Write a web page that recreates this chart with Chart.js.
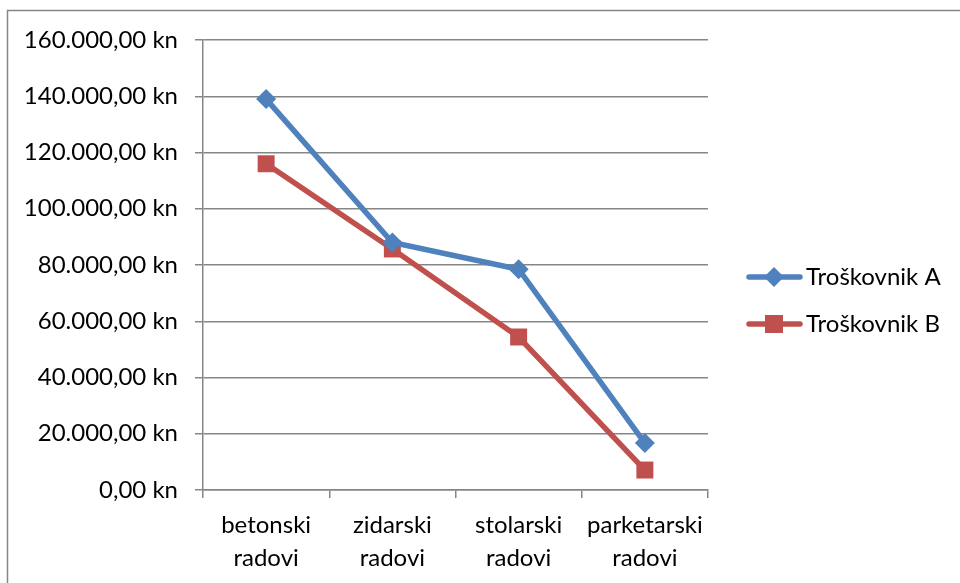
<!DOCTYPE html>
<html>
<head>
<meta charset="utf-8">
<script src="https://cdn.jsdelivr.net/npm/chart.js@4.4.1/dist/chart.umd.min.js"></script>
<style>
  html, body { margin: 0; padding: 0; background: #fff; }
  canvas { display: block; }
</style>
</head>
<body>
<canvas id="chart" width="960" height="583"></canvas>
<script>
// values
const categories = [['betonski', 'radovi'], ['zidarski', 'radovi'], ['stolarski', 'radovi'], ['parketarski', 'radovi']];
const seriesNames = ['Troškovnik A', 'Troškovnik B'];
const troskovnikA = [139000, 88000, 78500, 16700];
const troskovnikB = [116000, 85700, 54400, 7100];
const yTicks = [0, 20000, 40000, 60000, 80000, 100000, 120000, 140000, 160000];

const FONT = 'Lato, "Open Sans", sans-serif';
const GRID = '#868686';

function fmtKn(v) {
    const s = Math.round(v).toString().replace(/\B(?=(\d{3})+(?!\d))/g, '.');
    return s + ',00 kn';
}

// frame + legend drawn like the original (line with marker in the middle)
const frameLegend = {
    id: 'frameLegend',
    afterDraw(chart) {
        const ctx = chart.ctx;
        ctx.save();
        ctx.strokeStyle = GRID;
        ctx.lineWidth = 1.5;
        ctx.strokeRect(7.5, 10.5, 1000, 1000);

        const rows = [277, 324];
        chart.data.datasets.forEach((ds, i) => {
            const y = rows[i];
            ctx.strokeStyle = ds.borderColor;
            ctx.lineWidth = 5.5;
            ctx.lineCap = 'round';
            ctx.beginPath();
            ctx.moveTo(749, y);
            ctx.lineTo(800, y);
            ctx.stroke();
            ctx.fillStyle = ds.backgroundColor;
            ctx.beginPath();
            if (ds.pointStyle === 'rectRot') {
                ctx.moveTo(774, y - 10);
                ctx.lineTo(784, y);
                ctx.lineTo(774, y + 10);
                ctx.lineTo(764, y);
            } else {
                ctx.rect(765, y - 9, 18, 18);
            }
            ctx.closePath();
            ctx.fill();
            ctx.fillStyle = '#000';
            ctx.font = '24px ' + FONT;
            ctx.textBaseline = 'middle';
            ctx.textAlign = 'left';
            ctx.fillText(ds.label, 806, y);
        });
        ctx.restore();
    }
};

new Chart(document.getElementById('chart'), {
    type: 'line',
    data: {
        labels: categories,
        datasets: [
            {
                label: seriesNames[0],
                data: troskovnikA,
                borderColor: '#4F81BD',
                backgroundColor: '#4F81BD',
                borderWidth: 5.5,
                pointStyle: 'rectRot',
                pointRadius: 10,
                pointHoverRadius: 10,
                pointBorderWidth: 0,
                tension: 0
            },
            {
                label: seriesNames[1],
                data: troskovnikB,
                borderColor: '#C0504D',
                backgroundColor: '#C0504D',
                borderWidth: 5.5,
                pointStyle: 'rect',
                pointRadius: 12,
                pointHoverRadius: 12,
                pointBorderWidth: 0,
                tension: 0
            }
        ]
    },
    options: {
        responsive: false,
        animation: false,
        devicePixelRatio: 1,
        layout: { padding: { left: 0, top: 40, right: 252, bottom: 0 } },
        plugins: {
            legend: { display: false },
            tooltip: { enabled: false }
        },
        scales: {
            x: {
                offset: true,
                grid: {
                    offset: true,
                    drawOnChartArea: false,
                    drawTicks: true,
                    tickLength: 8,
                    color: GRID,
                    lineWidth: 1.5
                },
                border: { color: GRID, width: 1.5 },
                ticks: {
                    color: '#000',
                    font: { family: FONT, size: 24, lineHeight: 1.36 },
                    padding: 11,
                    maxRotation: 0,
                    autoSkip: false
                },
                afterFit(s) { s.height = 93; }
            },
            y: {
                min: 0,
                max: 160000,
                afterBuildTicks(s) { s.ticks = yTicks.map(v => ({ value: v })); },
                grid: {
                    color: GRID,
                    lineWidth: 1.5,
                    drawTicks: true,
                    tickLength: 8
                },
                border: { color: GRID, width: 1.5 },
                ticks: {
                    color: '#000',
                    font: { family: FONT, size: 24 },
                    padding: 17,
                    callback: v => fmtKn(v)
                },
                afterFit(s) { s.width = 203; }
            }
        }
    },
    plugins: [frameLegend]
});
</script>
</body>
</html>
